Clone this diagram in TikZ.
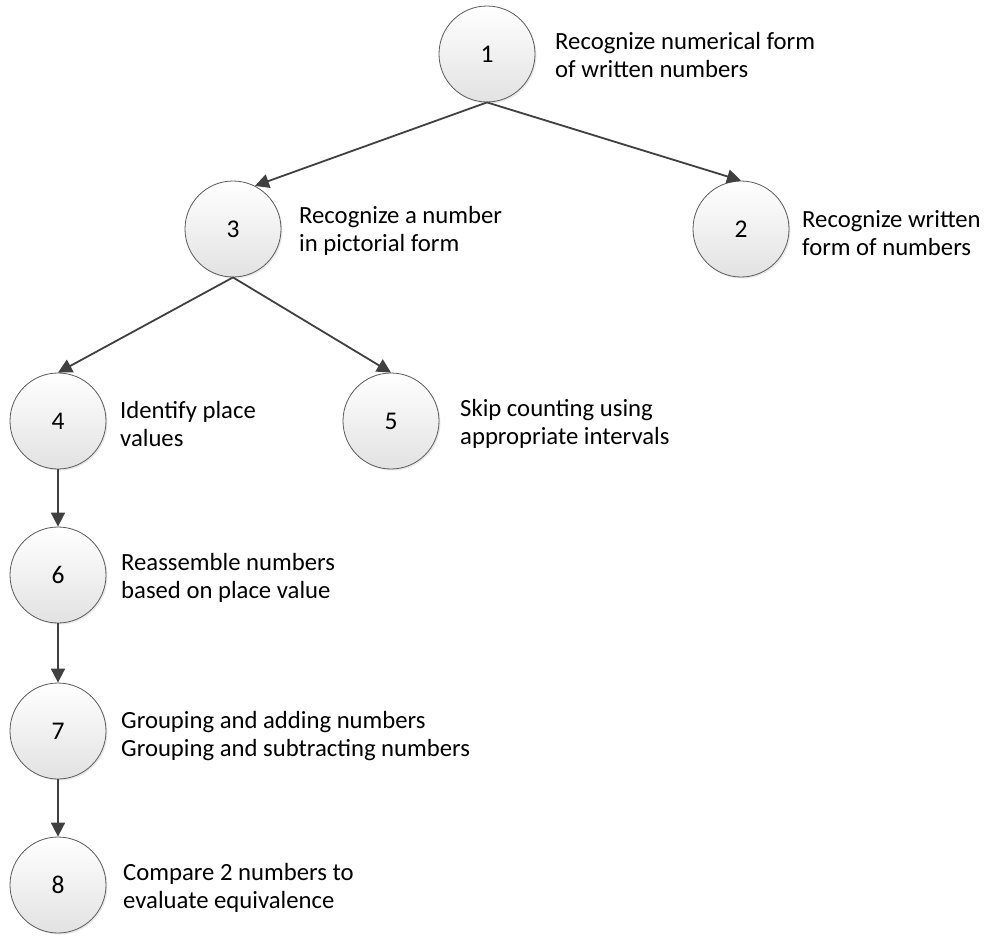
\documentclass[tikz,border=0pt]{standalone}
\usepackage{fontspec}
\setmainfont{Carlito}
\usepackage{xcolor}
\definecolor{skillLine}{RGB}{64, 64, 64}
\definecolor{skillBorder}{RGB}{90, 90, 90}
\definecolor{skillShade}{RGB}{226, 226, 226}
\usetikzlibrary{arrows.meta, shadows}

\begin{document}
\begin{tikzpicture}[
    x=1pt, y=-1pt,
    skillNode/.style={
        circle, draw=skillBorder, line width=0.8pt,
        top color=white, bottom color=skillShade,
        minimum size=96pt, inner sep=0pt,
        font=\fontsize{25.5}{28}\selectfont,
        drop shadow={opacity=0.18, shadow xshift=1.5pt, shadow yshift=-1.5pt}
    },
    descText/.style={
        anchor=west, align=left, inner sep=0pt,
        font=\fontsize{24.7}{28}\selectfont
    },
    flowLine/.style={
        -{Triangle[length=14pt, width=14pt]}, line width=1.8pt, draw=skillLine
    }
]
    \useasboundingbox (0, 0) rectangle (995, 935);

    % Nodes
    \node[skillNode] (n1) at (487, 54) {1};
    \node[descText] (d1) at (555, 55.5) {Recognize numerical form\\of written numbers};

    \node[skillNode] (n3) at (233, 229) {3};
    \node[descText] (d3) at (299, 230.5) {Recognize a number\\in pictorial form};

    \node[skillNode] (n2) at (741, 229) {2};
    \node[descText] (d2) at (802, 233) {Recognize written\\form of numbers};

    \node[skillNode] (n4) at (58, 421) {4};
    \node[descText] (d4) at (120, 424) {Identify place\\values};

    \node[skillNode] (n5) at (391, 421) {5};
    \node[descText] (d5) at (460, 424) {Skip counting using\\appropriate intervals};

    \node[skillNode] (n6) at (58, 575) {6};
    \node[descText] (d6) at (121, 578) {Reassemble numbers\\based on place value};

    \node[skillNode] (n7) at (58, 731) {7};
    \node[descText] (d7) at (121, 736) {Grouping and adding numbers\\Grouping and subtracting numbers};

    \node[skillNode] (n8) at (58, 885) {8};
    \node[descText] (d8) at (123, 888) {Compare 2 numbers to\\evaluate equivalence};

    % Connections
    \draw[flowLine] (n1.south) -- (n3.63);
    \draw[flowLine] (n1.south) -- (n2.north);

    \draw[flowLine] (n3.south) -- (n4.north);
    \draw[flowLine] (n3.south) -- (n5.north);

    \draw[flowLine] (n4) -- (n6);
    \draw[flowLine] (n6) -- (n7);
    \draw[flowLine] (n7) -- (n8);

\end{tikzpicture}
\end{document}
